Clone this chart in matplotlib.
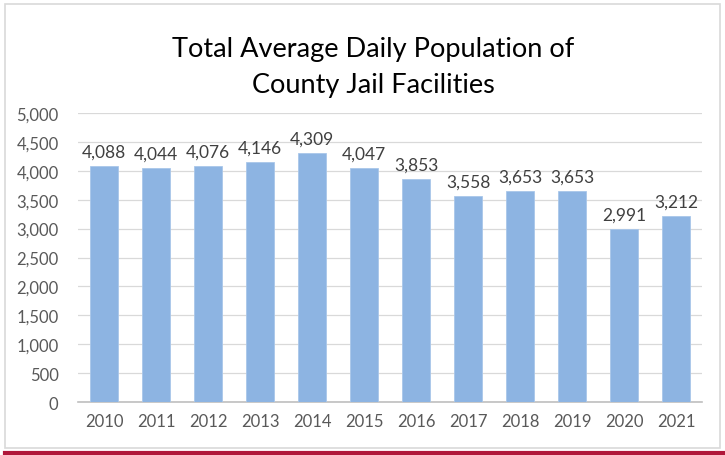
import matplotlib
matplotlib.use('Agg')
import matplotlib.pyplot as plt
from matplotlib.patches import Rectangle
from matplotlib.lines import Line2D

years = ['2010', '2011', '2012', '2013', '2014', '2015', '2016', '2017', '2018', '2019', '2020', '2021']
population = [4088, 4044, 4076, 4146, 4309, 4047, 3853, 3558, 3653, 3653, 2991, 3212]

plt.rcParams['font.family'] = ['Lato', 'DejaVu Sans']

fig = plt.figure(figsize=(7.25, 4.56), dpi=100)
ax = fig.add_axes([0.1076, 0.1162, 0.8608, 0.6338])

# outer chart border and red rule under it
fig.patches.append(Rectangle((5 / 725, 1 - 449 / 456), 715 / 725, 444 / 456,
                             transform=fig.transFigure, fill=False,
                             edgecolor='#D9D9D9', linewidth=1.2))
fig.lines.append(Line2D([5 / 725, 1.0], [1 - 453.5 / 456] * 2, transform=fig.transFigure,
                        color='#B0173A', linewidth=3))

x = range(len(years))
ax.bar(x, population, width=0.55, color='#8DB4E2', edgecolor='#A9C7EA', linewidth=0.6, zorder=3)
for xi, v in zip(x, population):
    ax.text(xi, v + 110, f"{v:,}", ha='center', va='bottom', fontsize=12.5, color='#404040')

ax.set_xlim(-0.5, len(years) - 0.5)
ax.set_ylim(0, 5000)
ax.set_yticks(range(0, 5001, 500))
ax.set_yticklabels([f"{t:,}" for t in range(0, 5001, 500)])
ax.set_xticks(list(x))
ax.set_xticklabels(years)
ax.tick_params(axis='both', length=0, labelsize=12, colors='#595959')
ax.tick_params(axis='x', pad=8)
ax.tick_params(axis='y', pad=14)
ax.grid(axis='y', color='#D9D9D9', linewidth=0.9, zorder=0)
for s in ['top', 'right', 'left']:
    ax.spines[s].set_visible(False)
ax.spines['bottom'].set_color('#BFBFBF')
ax.spines['bottom'].set_linewidth(1.2)

fig.text(373 / 725, 1 - 67 / 456, "Total Average Daily Population of\nCounty Jail Facilities",
         ha='center', va='center', fontsize=19.5, color='#000000', linespacing=1.55)

plt.savefig('out.png', dpi=100)
